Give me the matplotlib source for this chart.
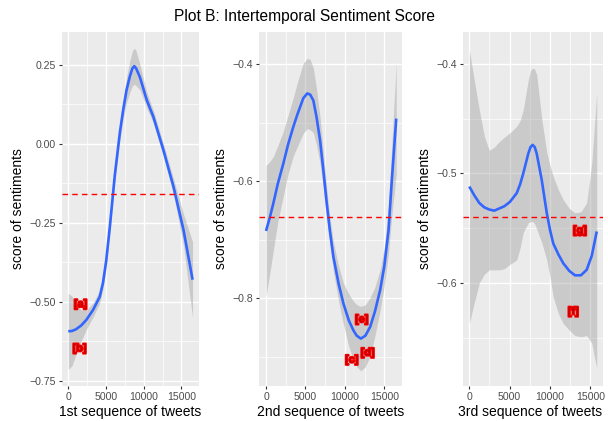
import matplotlib
matplotlib.use("Agg")
import matplotlib.pyplot as plt
import matplotlib.patheffects as pe
from matplotlib.ticker import FixedLocator, MultipleLocator, FuncFormatter
import numpy as np

plt.rcParams['font.family'] = ['Liberation Sans', 'DejaVu Sans']

# panel 1: 1st sequence of tweets (loess fit and standard error)
x1 = [0, 500, 1000, 1700, 2400, 3300, 4170, 4600, 5030, 5500, 6170, 6840, 7300,
      7730, 8170, 8500, 8750, 9000, 9500, 10400, 11280, 12610, 13950, 15280, 16480]
fit1 = [-0.593, -0.592, -0.587, -0.575, -0.557, -0.525, -0.484, -0.44, -0.37,
        -0.265, -0.10, 0.035, 0.11, 0.17, 0.213, 0.238, 0.245, 0.238, 0.21,
        0.138, 0.085, -0.02, -0.136, -0.273, -0.43]
se1 = [0.12, 0.11, 0.08, 0.05, 0.03, 0.022, 0.02, 0.02, 0.02, 0.02, 0.02, 0.025,
       0.03, 0.04, 0.05, 0.055, 0.057, 0.055, 0.04, 0.025, 0.02, 0.02, 0.025,
       0.05, 0.12]
mean1 = -0.160

# panel 2: 2nd sequence of tweets
x2 = [0, 500, 925, 1500, 2190, 2800, 3460, 4000, 4730, 5230, 5600, 6000, 6400,
      6850, 7300, 7700, 8100, 8540, 9200, 9810, 10500, 11080, 11500, 12020,
      12600, 13200, 13800, 14470, 15000, 15530, 15940, 16510]
fit2 = [-0.685, -0.661, -0.638, -0.604, -0.57, -0.537, -0.507, -0.485, -0.458,
        -0.450, -0.452, -0.462, -0.49, -0.53, -0.585, -0.638, -0.685, -0.729,
        -0.775, -0.809, -0.838, -0.855, -0.864, -0.869, -0.864, -0.849, -0.823,
        -0.786, -0.745, -0.684, -0.60, -0.493]
se2 = [0.112, 0.095, 0.08, 0.065, 0.055, 0.05, 0.05, 0.055, 0.06, 0.06, 0.06,
       0.055, 0.048, 0.04, 0.032, 0.025, 0.023, 0.025, 0.03, 0.035, 0.045, 0.05,
       0.053, 0.055, 0.053, 0.05, 0.042, 0.035, 0.033, 0.04, 0.06, 0.095]
mean2 = -0.661

# panel 3: 3rd sequence of tweets
x3 = [0, 620, 1240, 1860, 2480, 3100, 3720, 4340, 5040, 5880, 6300, 6690, 7310,
      7590, 7850, 8110, 8360, 8980, 9600, 10020, 10410, 11050, 11650, 12400,
      13100, 13840, 14550, 15190, 15800]
fit3 = [-0.512, -0.52, -0.527, -0.531, -0.533, -0.534, -0.532, -0.530, -0.526,
        -0.518, -0.51, -0.50, -0.482, -0.476, -0.474, -0.476, -0.482, -0.506,
        -0.536, -0.552, -0.564, -0.574, -0.582, -0.589, -0.593, -0.593, -0.588,
        -0.575, -0.553]
low3 = [-0.637, -0.618, -0.600, -0.592, -0.588, -0.588, -0.588, -0.587, -0.583,
        -0.579, -0.568, -0.554, -0.545, -0.544, -0.544, -0.546, -0.551, -0.563,
        -0.579, -0.595, -0.613, -0.628, -0.637, -0.643, -0.648, -0.649, -0.648,
        -0.655, -0.678]
up3 = [-0.387, -0.415, -0.442, -0.466, -0.479, -0.476, -0.471, -0.467, -0.463,
       -0.457, -0.452, -0.442, -0.415, -0.406, -0.404, -0.405, -0.41, -0.45,
       -0.481, -0.493, -0.503, -0.515, -0.524, -0.532, -0.536, -0.535, -0.527,
       -0.49, -0.427]
mean3 = -0.540

# point labels
labels1 = [("[a]", 1640, -0.507), ("[b]", 1500, -0.647)]
labels2 = [("[e]", 12130, -0.836), ("[c]", 10870, -0.905), ("[d]", 12890, -0.893)]
labels3 = [("[g]", 13720, -0.552), ("[f]", 12890, -0.626)]

xlabels = ["1st sequence of tweets", "2nd sequence of tweets", "3rd sequence of tweets"]
yticks1 = [0.25, 0.0, -0.25, -0.5, -0.75]
yticks2 = [-0.4, -0.6, -0.8]
yticks3 = [-0.4, -0.5, -0.6]
xticks = [0, 5000, 10000, 15000]

fig = plt.figure(figsize=(6.08, 4.21), dpi=100)
W, H = 608, 421


def add_panel(left, right):
    return fig.add_axes([left / W, 1 - 386 / H, (right - left) / W, 354 / H])


def minus_fmt(ndig):
    return FuncFormatter(lambda v, p: ("%.*f" % (ndig, v)).replace("-", "\u2212"))


axes = [add_panel(62, 199), add_panel(259, 402), add_panel(463, 603)]
xlims = [(-830, 17330), (-890, 17240), (-780, 16575)]
ylims = [(-0.766, 0.353), (-0.950, -0.345), (-0.694, -0.371)]
yticks = [yticks1, yticks2, yticks3]
ydig = [2, 1, 1]
ystep = [0.125, 0.1, 0.05]

data = [
    (x1, fit1, np.array(fit1) - np.array(se1), np.array(fit1) + np.array(se1), mean1, labels1),
    (x2, fit2, np.array(fit2) - np.array(se2), np.array(fit2) + np.array(se2), mean2, labels2),
    (x3, fit3, low3, up3, mean3, labels3),
]

for i, ax in enumerate(axes):
    x, fit, lo, hi, mean, labs = data[i]
    ax.set_facecolor('#EBEBEB')
    for s in ax.spines.values():
        s.set_visible(False)
    ax.set_xlim(*xlims[i])
    ax.set_ylim(*ylims[i])
    ax.xaxis.set_major_locator(FixedLocator(xticks))
    ax.xaxis.set_minor_locator(MultipleLocator(2500))
    ax.yaxis.set_major_locator(FixedLocator(yticks[i]))
    ax.yaxis.set_minor_locator(MultipleLocator(ystep[i]))
    ax.yaxis.set_major_formatter(minus_fmt(ydig[i]))
    ax.grid(which='major', color='white', linewidth=1.0)
    ax.grid(which='minor', color='white', linewidth=0.5)
    ax.set_axisbelow(True)
    ax.tick_params(which='major', length=2.5, width=0.8, color='#333333',
                   labelsize=7.6, labelcolor='#4D4D4D', pad=2)
    ax.tick_params(which='minor', length=0)

    ax.fill_between(x, lo, hi, color='#999999', alpha=0.4, linewidth=0, zorder=2)
    ax.plot(x, fit, color='#3366FF', linewidth=1.9, zorder=3,
            solid_capstyle='butt', solid_joinstyle='round')
    ax.axhline(mean, color='red', linewidth=1.0, linestyle=(0, (4, 3)), zorder=4)
    for t, lx, ly in labs:
        ax.text(lx, ly, t, color='#C00000', fontsize=7.8, fontweight='bold',
                ha='center', va='center', zorder=5,
                path_effects=[pe.Stroke(linewidth=1.4, foreground='#FF0000'), pe.Normal()])

    ax.set_xlabel(xlabels[i], fontsize=10.0, labelpad=2)
    ax.set_ylabel("score of sentiments", fontsize=10.0, labelpad=3)

# keep the last axis title inside the figure edge
axes[2].xaxis.label.set_x(0.48)

fig.text(0.5, 1 - 17 / H, "Plot B: Intertemporal Sentiment Score",
         ha='center', va='center', fontsize=11.2)

fig.savefig("out.png", dpi=100)
